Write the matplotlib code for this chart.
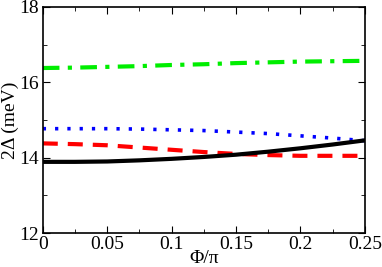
import numpy as np
import matplotlib.pyplot as plt

plt.rcParams['font.family'] = ['Liberation Serif', 'DejaVu Serif']

phi = [0, 0.025, 0.05, 0.075, 0.1, 0.125, 0.15, 0.175, 0.2, 0.225, 0.25]
black = [13.89, 13.89, 13.90, 13.93, 13.97, 14.02, 14.08, 14.16, 14.25, 14.35, 14.46]
red = [14.38, 14.36, 14.33, 14.27, 14.21, 14.15, 14.10, 14.07, 14.05, 14.05, 14.05]
blue = [14.77, 14.77, 14.77, 14.76, 14.74, 14.72, 14.68, 14.64, 14.58, 14.52, 14.45]
green = [16.38, 16.39, 16.41, 16.43, 16.46, 16.48, 16.51, 16.53, 16.55, 16.56, 16.57]

fig = plt.figure(figsize=(3.82, 2.67), dpi=100)
ax = fig.add_axes([0.112, 0.127, 0.843, 0.847])

ax.plot(phi, green, color='#00ee00', lw=3, dashes=(4, 2, 1, 2))
ax.plot(phi, blue, color='blue', lw=2.6, dashes=(0.9, 2.5))
ax.plot(phi, red, color='red', lw=3, dashes=(3.6, 2.4))
ax.plot(phi, black, color='black', lw=3)

ax.set_xlim(0, 0.25)
ax.set_ylim(12, 18)
ax.set_xticks([0, 0.05, 0.1, 0.15, 0.2, 0.25])
ax.set_xticklabels(['0', '0.05', '0.1', '0.15', '0.2', '0.25'])
ax.set_xticks(np.arange(0.025, 0.25, 0.05), minor=True)
ax.set_yticks([12, 14, 16, 18])
ax.set_yticks([13, 15, 17], minor=True)
ax.tick_params(which='both', direction='in', top=True, right=True, labelsize=14)
ax.tick_params(axis='x', pad=2)
ax.tick_params(axis='y', pad=3)
ax.tick_params(which='major', length=5)
ax.tick_params(which='minor', length=3)
ax.set_xlabel('Φ/π', fontsize=14, labelpad=-2)
ax.set_ylabel('2Δ (meV)', fontsize=14, labelpad=0)
for s in ax.spines.values():
    s.set_linewidth(1.2)

fig.savefig('out.png', dpi=100)
